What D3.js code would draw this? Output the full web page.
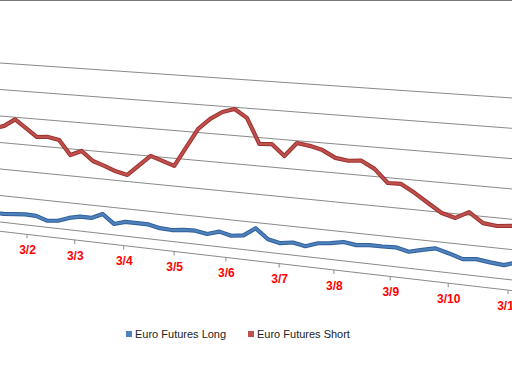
<!DOCTYPE html>
<html><head><meta charset="utf-8">
<script src="https://cdn.jsdelivr.net/npm/d3@7"></script>
<style>html,body{margin:0;padding:0;background:#fff;overflow:hidden}</style>
</head><body>
<svg id="chart" width="512" height="382"></svg>
<script>
// ---- data (values in thousands of contracts) ----
const firstCategory = -2;   // categories run from -2 .. 41 (partly off-canvas)
const shortValues = [35.2,36.4,39.2,36.3,33.3,33.7,32.9,27.7,29.6,26.3,24.9,23.3,22.4,26.3,30.1,28.7,27.3,34.3,41.3,45.2,48.0,49.4,46.6,37.8,38.1,34.3,39.2,38.6,37.5,35.2,34.6,35.0,32.6,28.2,28.3,25.7,22.7,19.8,18.6,21.0,17.8,17.3,17.8,17.7];
const longValues  = [3.2,3.2,3.6,3.9,3.8,2.5,2.9,4.4,5.3,5.3,7.2,4.0,5.2,5.2,5.2,4.3,4.1,4.6,4.8,4.1,5.4,4.4,5.0,8.0,4.6,3.7,4.4,3.6,5.1,5.6,6.5,5.9,6.4,6.4,6.6,5.6,6.7,7.7,6.5,5.1,5.6,5.0,4.6,6.1];
const tickLabels = ["3/2","3/3","3/4","3/5","3/6","3/7","3/8","3/9","3/10","3/11"];
const gridValues = [0,10,20,30,40,50,60];
const floorFrontValue = -3.5;
const seriesNames = ["Euro Futures Long","Euro Futures Short"];
const seriesColors = ["#4F81BD","#C0504D"];
const seriesEdge = ["#30609a","#9a3330"];

// ---- perspective projection (vanishing point to the left) ----
const VP = [-3541, -179];
const slope = d3.scaleLinear().domain([0, 60]).range([0.11324, 0.068342]);
const invShort = d3.scaleLinear().domain([1, 39]).range([1/3567, 1/4038]);
const invLong  = d3.scaleLinear().domain([3, 40]).range([1/3588, 1/4045]);
const invTick  = d3.scaleLinear().domain([0, tickLabels.length - 1]).range([1/3568, 1/4049]);
const projX = (inv, c) => VP[0] + 1 / inv(c);
const projY = (X, v) => VP[1] + (X - VP[0]) * slope(v);

const svg = d3.select("#chart");

// top border
svg.append("line").attr("x1",0).attr("x2",512).attr("y1",0.5).attr("y2",0.5)
  .attr("stroke","#777").attr("stroke-width",1.2);

// gridlines on back wall
svg.append("g").selectAll("line").data(gridValues).join("line")
  .attr("x1",-10).attr("x2",522)
  .attr("y1",v=>projY(-10,v)).attr("y2",v=>projY(522,v))
  .attr("stroke","#8a8a8a").attr("stroke-width",1);

// front floor edge (category axis)
svg.append("line").attr("x1",-10).attr("x2",522)
  .attr("y1",projY(-10,floorFrontValue)).attr("y2",projY(522,floorFrontValue))
  .attr("stroke","#8a8a8a").attr("stroke-width",1);

const ticks = svg.append("g");
tickLabels.forEach((lab,k)=>{
  const X = projX(invTick,k), Y = projY(X,floorFrontValue);
  ticks.append("line").attr("x1",X).attr("x2",X).attr("y1",Y).attr("y2",Y+4)
    .attr("stroke","#8a8a8a").attr("stroke-width",1);
  ticks.append("text").attr("x",X+0.5).attr("y",Y+19.7)
    .attr("text-anchor","middle").attr("fill","#FF0000")
    .attr("font-family","'Liberation Sans', Arial, sans-serif")
    .attr("font-size",12).attr("font-weight","bold").text(lab);
});

// series
function drawSeries(values, inv, i){
  const pts = values.map((v,j)=>{const c=firstCategory+j; const X=projX(inv,c); return [X, projY(X,v)];});
  const line = d3.line();
  svg.append("path").attr("d",line(pts)).attr("fill","none")
    .attr("stroke",seriesEdge[i]).attr("stroke-width",4.2).attr("stroke-linejoin","round");
  svg.append("path").attr("d",line(pts)).attr("fill","none")
    .attr("stroke",seriesColors[i]).attr("stroke-width",2.2).attr("stroke-linejoin","round");
}
drawSeries(longValues, invLong, 0);
drawSeries(shortValues, invShort, 1);

// legend
const legX = [126, 248];
seriesNames.forEach((n,i)=>{
  svg.append("rect").attr("x",legX[i]).attr("y",331).attr("width",6).attr("height",6).attr("fill",seriesColors[i]);
  svg.append("text").attr("x",legX[i]+9).attr("y",337.5)
    .attr("font-family","'Liberation Sans', Arial, sans-serif").attr("font-size",11)
    .attr("fill","#222").text(n);
});
</script>
</body></html>
